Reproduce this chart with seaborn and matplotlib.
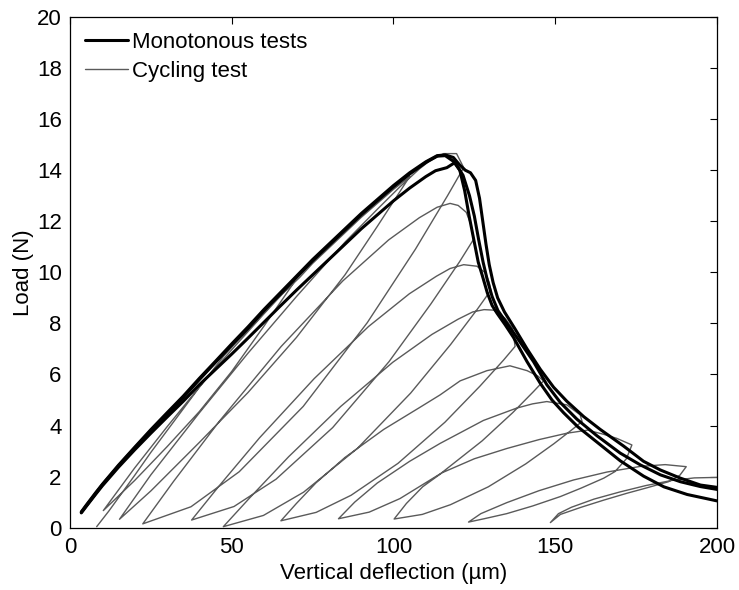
import matplotlib
matplotlib.use("Agg")
import matplotlib.pyplot as plt
from matplotlib.lines import Line2D
import seaborn as sns
import pandas as pd

# ---------------- data ----------------
# Monotonous test 1 (upper pre-peak envelope, left drop, lowest tail)
mono1_x = [3.5, 5, 8, 10, 15, 20, 25, 30, 35, 40, 45, 50, 55, 60, 65, 70, 75, 80, 85, 90, 95,
           100, 105, 110, 113.5, 116, 118.5, 120.5, 122, 123.4, 124.8, 126.2, 127.4, 129, 130.5,
           132, 134.5, 137.1, 141.3, 145.4, 149, 152.6, 157, 163.9, 170.1, 177.3, 183.6, 190.8, 200]
mono1_y = [0.6, 0.85, 1.35, 1.68, 2.42, 3.12, 3.8, 4.45, 5.1, 5.8, 6.48, 7.15, 7.8, 8.5, 9.15,
           9.8, 10.45, 11.05, 11.65, 12.25, 12.8, 13.35, 13.85, 14.3, 14.55, 14.57, 14.35, 14.0,
           13.2, 12.2, 11.3, 10.4, 9.9, 9.2, 8.7, 8.4, 7.95, 7.45, 6.5, 5.65, 5.0, 4.5, 3.95, 3.25,
           2.62, 2.02, 1.6, 1.3, 1.05]
# Monotonous test 2 (lower pre-peak, middle drop, middle tail)
mono2_x = [3.5, 5, 8, 10, 15, 20, 25, 30, 35, 40, 45, 50, 55, 60, 65, 70, 75, 80, 85, 90, 95,
           100, 105, 110, 113, 116.5, 119, 121.5, 123.5, 125, 126.3, 127.7, 129, 130.5, 132.3,
           134.8, 138.7, 143.3, 147.4, 151.6, 156.7, 162.9, 170.1, 176.3, 182.5, 188.7, 194.9, 200]
mono2_y = [0.58, 0.83, 1.32, 1.64, 2.37, 3.05, 3.7, 4.33, 4.95, 5.6, 6.2, 6.8, 7.42, 8.05, 8.68,
           9.3, 9.9, 10.5, 11.1, 11.7, 12.25, 12.8, 13.3, 13.75, 13.98, 14.1, 14.3, 13.8, 13.0,
           12.2, 11.3, 10.4, 9.7, 9.05, 8.5, 8.05, 7.35, 6.5, 5.6, 4.9, 4.25, 3.6, 2.92, 2.46,
           2.07, 1.8, 1.61, 1.5]
# Monotonous test 3 (upper pre-peak envelope, right drop, upper tail)
mono3_x = [3.5, 5, 8, 10, 15, 20, 25, 30, 35, 40, 45, 50, 55, 60, 65, 70, 75, 80, 85, 90, 95,
           100, 105, 110, 113.5, 116, 118.5, 120.5, 122.2, 123.8, 125.4, 126.6, 127.6, 128.6,
           129.6, 130.8, 132.2, 134.3, 137.5, 141.3, 145.4, 149.5, 153.6, 158.8, 163.9, 171.1,
           177.3, 182.5, 188.7, 194.9, 200]
mono3_y = [0.62, 0.88, 1.38, 1.7, 2.45, 3.15, 3.84, 4.5, 5.15, 5.85, 6.52, 7.2, 7.86, 8.55, 9.2,
           9.85, 10.5, 11.1, 11.7, 12.3, 12.85, 13.4, 13.9, 14.33, 14.57, 14.6, 14.5, 14.2, 14.0,
           13.9, 13.6, 12.9, 12.0, 11.1, 10.3, 9.6, 9.0, 8.45, 7.8, 7.0, 6.2, 5.5, 4.95, 4.35,
           3.85, 3.2, 2.6, 2.26, 1.94, 1.67, 1.58]

# Cycling test: one continuous path (pre-peak part)
cyc_pre_x = [8.25, 12, 16, 20, 25, 30, 35, 40, 44, 47.5, 52, 57, 62, 66, 69.5,
             60, 50, 40, 30, 20, 10.3,
             20, 30, 40, 50, 60, 66, 71,
             75, 80, 85, 90, 95, 100, 105,
             95, 85, 70, 55, 40, 25, 15.3,
             25, 40, 55, 70, 85, 95, 102, 108,
             111, 113.5, 115.5, 119.5, 121.7]
cyc_pre_y = [0.04, 0.65, 1.35, 2.05, 2.95, 3.8, 4.65, 5.5, 6.15, 6.72, 7.35, 8.0, 8.7, 9.2, 9.65,
             7.9, 6.12, 4.55, 3.17, 1.85, 0.67,
             2.34, 3.95, 5.51, 6.97, 8.38, 9.2, 9.8,
             10.35, 10.95, 11.55, 12.15, 12.7, 13.25, 13.75,
             11.8, 9.9, 7.45, 5.29, 3.34, 1.44, 0.33,
             2.07, 4.5, 6.83, 9.05, 11.18, 12.47, 13.35, 14.05,
             14.35, 14.52, 14.65, 14.65, 14.1]
# Cycling test: post-peak cycles 1-3
cyc_mid_x = [116.7, 106.8, 91.9, 72.1, 52.3, 37.4, 22.5,
             32.0, 46.3, 65.3, 84.3, 98.5, 108.0, 113.5, 117.5, 120, 122.5, 124, 124.7,
             120.4, 111.6, 98.6, 81.2, 63.7, 50.7, 37.6,
             46.0, 58.6, 75.5, 92.3, 104.9, 113.3, 117.5, 121.7, 125.8, 128.5, 129.6, 130.1,
             126.0, 117.7, 105.3, 88.8, 72.2, 59.8, 47.4,
             55.5, 67.6, 83.7, 99.8, 111.9, 119.9, 124.5, 128, 131, 134.5, 136.8, 137.6]
cyc_mid_y = [13.0, 10.91, 8.03, 4.75, 2.19, 0.82, 0.15,
             1.81, 4.19, 7.1, 9.66, 11.27, 12.14, 12.55, 12.7, 12.62, 12.35, 11.85, 11.28,
             10.41, 8.77, 6.5, 3.92, 1.9, 0.83, 0.3,
             1.62, 3.52, 5.84, 7.88, 9.16, 9.85, 10.15, 10.3, 10.24, 9.97, 9.6, 9.3,
             8.57, 7.18, 5.27, 3.1, 1.39, 0.48, 0.04,
             1.16, 2.78, 4.75, 6.48, 7.57, 8.16, 8.45, 8.54, 8.52, 8.2, 7.8, 7.1]
# Cycling test: post-peak cycles 4-8
cyc_end_x = [134.0, 126.7, 115.9, 101.4, 86.9, 76.1, 65.2,
             70, 76, 85, 97, 108, 114.4, 120.6, 128.9, 136, 141.3, 144.5, 146.4,
             143.2, 136.9, 127.4, 114.7, 102.0, 92.5, 83,
             88, 95, 105, 114.4, 127.8, 138, 143, 147.4, 153.6, 157.7, 158.3,
             155.4, 149.6, 140.9, 129.3, 117.6, 108.9, 100.2,
             104, 109, 115, 125, 135, 145, 153.6, 160, 164.9, 169, 173.7,
             172, 168.5, 165, 158, 151.6, 143, 135, 128, 123.2,
             127, 135, 145, 155.7, 166, 176.3, 184, 190.5,
             188.5, 185, 178, 172.2, 165, 158, 151.6, 148.5,
             151, 155, 162, 170, 178, 186, 193, 200]
cyc_end_y = [6.56, 5.54, 4.13, 2.52, 1.27, 0.6, 0.27,
             0.95, 1.75, 2.75, 3.85, 4.7, 5.2, 5.75, 6.15, 6.34, 6.15, 5.95, 5.75,
             5.32, 4.51, 3.4, 2.13, 1.14, 0.61, 0.35,
             1.0, 1.75, 2.6, 3.3, 4.2, 4.68, 4.85, 4.94, 4.81, 4.42, 4.16,
             3.86, 3.29, 2.5, 1.6, 0.9, 0.52, 0.34,
             0.95, 1.6, 2.15, 2.7, 3.1, 3.45, 3.7, 3.82, 3.66, 3.5, 3.24,
             2.7, 2.2, 1.94, 1.55, 1.22, 0.85, 0.55, 0.35, 0.22,
             0.55, 0.98, 1.45, 1.87, 2.18, 2.4, 2.47, 2.39,
             2.05, 1.8, 1.55, 1.35, 1.08, 0.8, 0.52, 0.2,
             0.55, 0.8, 1.12, 1.4, 1.65, 1.85, 1.95, 1.97]

x_ticks = [0, 50, 100, 150, 200]
y_ticks = list(range(0, 21, 2))
legend_labels = ["Monotonous tests", "Cycling test"]
x_label = "Vertical deflection (\u00b5m)"
y_label = "Load (N)"

# ---------------- styling ----------------
sns.set_theme(style="white")
plt.rcParams["font.family"] = ["Liberation Sans", "DejaVu Sans"]
plt.rcParams["xtick.direction"] = "in"
plt.rcParams["ytick.direction"] = "in"

GRAY = "#5a5a5a"
BLACK = "#000000"

fig = plt.figure(figsize=(7.39, 5.90), dpi=100)
ax = fig.add_axes([0.0947, 0.1056, 0.8755, 0.8656])

cyc_x = cyc_pre_x + cyc_mid_x + cyc_end_x
cyc_y = cyc_pre_y + cyc_mid_y + cyc_end_y
df_cyc = pd.DataFrame({"x": cyc_x, "y": cyc_y})
sns.lineplot(data=df_cyc, x="x", y="y", sort=False, estimator=None, color=GRAY,
             linewidth=1.0, ax=ax)

for mx, my in [(mono1_x, mono1_y), (mono2_x, mono2_y), (mono3_x, mono3_y)]:
    dfm = pd.DataFrame({"x": mx, "y": my})
    sns.lineplot(data=dfm, x="x", y="y", sort=False, estimator=None, color=BLACK,
                 linewidth=2.2, ax=ax)

ax.set_xlim(0, 200)
ax.set_ylim(0, 20)
ax.set_xticks(x_ticks)
ax.set_yticks(y_ticks)
ax.tick_params(axis="both", which="both", direction="in", length=5, width=0.8,
               top=True, right=True, labelsize=16, colors=BLACK)
ax.tick_params(axis="x", pad=7)
ax.tick_params(axis="y", pad=6)
for sp in ax.spines.values():
    sp.set_color(BLACK)
    sp.set_linewidth(0.9)
ax.set_xlabel(x_label, fontsize=16, labelpad=3, color=BLACK)
ax.set_ylabel(y_label, fontsize=16, labelpad=2, color=BLACK)

handles = [Line2D([], [], color=BLACK, linewidth=2.2),
           Line2D([], [], color=GRAY, linewidth=1.0)]
leg = ax.legend(handles, legend_labels, loc="upper left", bbox_to_anchor=(0.017, 0.979),
                frameon=False, fontsize=16, handlelength=1.9, handletextpad=0.2,
                labelspacing=0.34, borderaxespad=0, borderpad=0.2)
for t in leg.get_texts():
    t.set_color(BLACK)

fig.savefig("out.png", dpi=100)
